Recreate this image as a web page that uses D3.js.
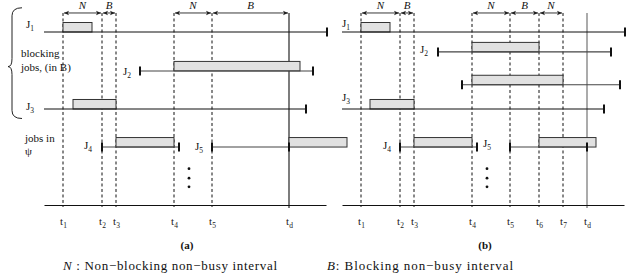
<!DOCTYPE html>
<html>
<head>
<meta charset="utf-8">
<script src="https://cdn.jsdelivr.net/npm/d3@7"></script>
<style>
  body { margin: 0; background: #fff; }
  svg { display: block; }
  svg text { font-family: "Liberation Serif", "DejaVu Serif", serif; }
</style>
</head>
<body>
<div id="chart"></div>
<script>
// ── data ─────────────────────────────────────────────────────
const tickNamesA = ['1', '2', '3', '4', '5', 'd']
const tickTimesA = [1.9, 5.8, 7.2, 13.0, 16.8, 24.5]
const tickNamesB = ['1', '2', '3', '4', '5', '6', '7', 'd']
const tickTimesB = [1.9, 5.8, 7.2, 13.0, 16.8, 19.7, 22.1, 24.5]

const intervalsA = [
  { kind: 'N', from: 1.9, to: 5.8 },
  { kind: 'B', from: 5.8, to: 7.2 },
  { kind: 'N', from: 13.0, to: 16.8 },
  { kind: 'B', from: 16.8, to: 24.5 },
]
const intervalsB = [
  { kind: 'N', from: 1.9, to: 5.8 },
  { kind: 'B', from: 5.8, to: 7.2 },
  { kind: 'N', from: 13.0, to: 16.8 },
  { kind: 'B', from: 16.8, to: 19.7 },
  { kind: 'N', from: 19.7, to: 22.1 },
]

// lane = row of the job, release = null when released before the window
const jobsA = [
  { name: '1', lane: 0,    release: null, end: 28.3, busy: [1.9, 4.8] },
  { name: '2', lane: 2.25, release: 9.6,  end: 26.9, busy: [13.0, 25.6] },
  { name: '3', lane: 4.45, release: null, end: 26.2, busy: [2.9, 7.2] },
  { name: '4', lane: 6.65, release: 5.8,  end: 13.5, busy: [7.2, 13.0] },
  { name: '5', lane: 6.65, release: 16.8, end: 24.5, busy: [24.5, 30.3] },
]
const jobsB = [
  { name: '1', lane: 0,    release: null, end: 28.3, busy: [1.9, 4.8] },
  { name: '2', lane: 1.15, release: 9.6,  end: 26.9, busy: [13.0, 19.7] },
  { name: '',  lane: 3.05, release: 12.0, end: 27.8, busy: [13.0, 22.1] },
  { name: '3', lane: 4.45, release: null, end: 26.2, busy: [2.8, 7.2] },
  { name: '4', lane: 6.65, release: 5.8,  end: 13.5, busy: [7.2, 13.0] },
  { name: '5', lane: 6.65, release: 16.8, end: 24.5, busy: [19.7, 25.4] },
]

// label nudges [dx, dy] relative to the job's line start / lane
const labelNudgeA = { '1': [-18, -7], '2': [-9, 1], '3': [-18, -2], '4': [-10, -1], '5': [-9, 0] }
const labelNudgeB = { '1': [0, -8], '2': [-10, -2], '3': [0, -11], '4': [-9, -1], '5': [-19, -3] }

// ── layout ───────────────────────────────────────────────────
const WIDTH = 629, HEIGHT = 280
const TIME_MAX = 28.2, AXIS_LEN = 282
const BAR_H = 9.5
const FONT = '"Liberation Serif", "DejaVu Serif", serif'
const yScale = d3.scaleLinear().domain([0, 10]).range([32, 205])
const AXIS_LANE = 10, ARROW_LANE = -1.1

const svg = d3.select('#chart').append('svg')
  .attr('width', WIDTH).attr('height', HEIGHT)
  .attr('font-family', FONT).attr('fill', '#111')

const defs = svg.append('defs')
defs.append('marker').attr('id', 'arr')
  .attr('viewBox', '-6 -3 7 6').attr('refX', 0).attr('refY', 0)
  .attr('markerWidth', 7).attr('markerHeight', 6)
  .attr('markerUnits', 'userSpaceOnUse')
  .attr('orient', 'auto-start-reverse')
  .append('path').attr('d', 'M-5,-2.2 L0,0 L-5,2.2 L-3.8,0 Z')
  .attr('fill', '#222')

function sub(sel, main, s, subSize) {
  sel.text(null)
  sel.append('tspan').text(main)
  sel.append('tspan').attr('font-size', subSize).attr('dy', 3).text(s)
}

function drawPanel(x0, ticksN, ticksT, intervals, jobs, nudge, tdColor, caption) {
  const x = d3.scaleLinear().domain([0, TIME_MAX]).range([x0, x0 + AXIS_LEN])
  const g = svg.append('g')
  const yTop = yScale(ARROW_LANE), yAx = yScale(AXIS_LANE)
  const tdTime = ticksT[ticksT.length - 1]

  // ── guide lines ───────────────────────────────────────────
  g.selectAll('.guide').data(ticksT.slice(0, -1)).join('line')
    .attr('class', 'guide')
    .attr('x1', d => x(d)).attr('x2', d => x(d))
    .attr('y1', yTop).attr('y2', yAx + 2)
    .attr('stroke', '#111').attr('stroke-width', 1).attr('stroke-dasharray', '3,2.5')

  g.append('line')
    .attr('x1', x(tdTime)).attr('x2', x(tdTime))
    .attr('y1', yTop).attr('y2', yAx + 3)
    .attr('stroke', tdColor).attr('stroke-width', 1.1)

  // ── interval arrows ───────────────────────────────────────
  g.selectAll('.iv').data(intervals).join('line')
    .attr('class', 'iv')
    .attr('x1', d => x(d.from) + 1).attr('x2', d => x(d.to) - 1)
    .attr('y1', yTop).attr('y2', yTop)
    .attr('stroke', '#222').attr('stroke-width', 0.9)
    .attr('marker-start', 'url(#arr)').attr('marker-end', 'url(#arr)')

  g.selectAll('.ivl').data(intervals).join('text')
    .attr('class', 'ivl')
    .attr('x', d => x((d.from + d.to) / 2)).attr('y', yTop - 4)
    .attr('text-anchor', 'middle').attr('font-size', 11).attr('font-style', 'italic')
    .text(d => d.kind)

  // ── jobs ───────────────────────────────────────────────────
  const jg = g.selectAll('.job').data(jobs).join('g').attr('class', 'job')

  jg.append('rect')
    .attr('x', d => x(d.busy[0])).attr('width', d => x(d.busy[1]) - x(d.busy[0]))
    .attr('y', d => yScale(d.lane) - BAR_H).attr('height', BAR_H)
    .attr('fill', '#e1e1e1').attr('stroke', '#333').attr('stroke-width', 1)

  jg.append('line')
    .attr('x1', d => x(d.release ?? 0)).attr('x2', d => x(d.end))
    .attr('y1', d => yScale(d.lane)).attr('y2', d => yScale(d.lane))
    .attr('stroke', d => d.release == null ? '#111' : '#444').attr('stroke-width', 1.1)

  jg.filter(d => d.release != null).append('line')
    .attr('x1', d => x(d.release)).attr('x2', d => x(d.release))
    .attr('y1', d => yScale(d.lane) - 4.5).attr('y2', d => yScale(d.lane) + 4.5)
    .attr('stroke', '#111').attr('stroke-width', 2)

  jg.append('line')
    .attr('x1', d => x(d.end)).attr('x2', d => x(d.end))
    .attr('y1', d => yScale(d.lane) - 4.5).attr('y2', d => yScale(d.lane) + 4.5)
    .attr('stroke', '#111').attr('stroke-width', 2)

  jg.filter(d => d.name).append('text')
    .attr('x', d => x(d.release ?? 0) + nudge[d.name][0])
    .attr('y', d => yScale(d.lane) + nudge[d.name][1] + 3)
    .attr('text-anchor', d => d.release == null ? 'start' : 'end')
    .attr('font-size', 11)
    .each(function (d) { sub(d3.select(this), 'J', d.name, 7.5) })

  // ── more jobs dots ────────────────────────────────────────
  g.selectAll('.dot').data([7.9, 8.45, 8.95]).join('circle')
    .attr('class', 'dot')
    .attr('cx', x(14.5)).attr('cy', d => yScale(d)).attr('r', 1.4).attr('fill', '#111')

  // ── axis ──────────────────────────────────────────────────
  const axis = g.append('g').attr('transform', `translate(0,${yAx})`)
    .call(d3.axisBottom(x).tickValues(ticksT).tickSize(0).tickSizeOuter(0).tickPadding(12))
  axis.attr('font-family', FONT)
  axis.select('.domain').attr('stroke', '#111').attr('stroke-width', 1.1)
  axis.selectAll('.tick text')
    .attr('font-size', 11).attr('fill', '#222')
    .each(function (d, i) { sub(d3.select(this), 't', ticksN[i], 7.5) })

  g.append('text')
    .attr('x', x(14.3)).attr('y', yAx + 44)
    .attr('text-anchor', 'middle').attr('font-size', 11).attr('font-weight', 'bold')
    .text(caption)
  return x
}

const xA = drawPanel(44, tickNamesA, tickTimesA, intervalsA, jobsA, labelNudgeA, '#111', '(a)')
drawPanel(342, tickNamesB, tickTimesB, intervalsB, jobsB, labelNudgeB, '#666', '(b)')

// ── left side annotations ────────────────────────────────────
const ann = svg.append('g').attr('font-size', 11)
ann.append('text').attr('x', xA(-2.3)).attr('y', yScale(1.42)).text('blocking')
ann.append('text').attr('x', xA(-2.3)).attr('y', yScale(2.28)).text('jobs, (in B)')
ann.append('text').attr('x', xA(-1.9)).attr('y', yScale(6.36)).text('jobs in')
ann.append('text').attr('x', xA(-1.9)).attr('y', yScale(7.1)).text('\u03c8')

const bTop = yScale(-1.4), bBot = yScale(5), bMid = yScale(2.0)
const bx = xA(-3.2), bxi = xA(-2.6), bTip = xA(-3.6)
svg.append('path')
  .attr('d', `M${bxi + 4},${bTop} Q${bx},${bTop} ${bx},${bTop + 8} L${bx},${bMid - 8} Q${bx},${bMid} ${bTip},${bMid}` +
             ` Q${bx},${bMid} ${bx},${bMid + 8} L${bx},${bBot - 8} Q${bx},${bBot} ${bxi + 4},${bBot}`)
  .attr('fill', 'none').attr('stroke', '#222').attr('stroke-width', 1)

// ── footnote ─────────────────────────────────────────────────
const foot = svg.append('g').attr('font-size', 13)
const f1 = foot.append('text').attr('x', 63).attr('y', 270)
  .attr('textLength', 214).attr('lengthAdjust', 'spacing')
f1.append('tspan').attr('font-style', 'italic').text('N')
f1.append('tspan').text(' : Non\u2212blocking non\u2212busy interval')
const f2 = foot.append('text').attr('x', 327).attr('y', 270)
  .attr('textLength', 186).attr('lengthAdjust', 'spacing')
f2.append('tspan').attr('font-style', 'italic').text('B')
f2.append('tspan').text(': Blocking non\u2212busy interval')
</script>
</body>
</html>
